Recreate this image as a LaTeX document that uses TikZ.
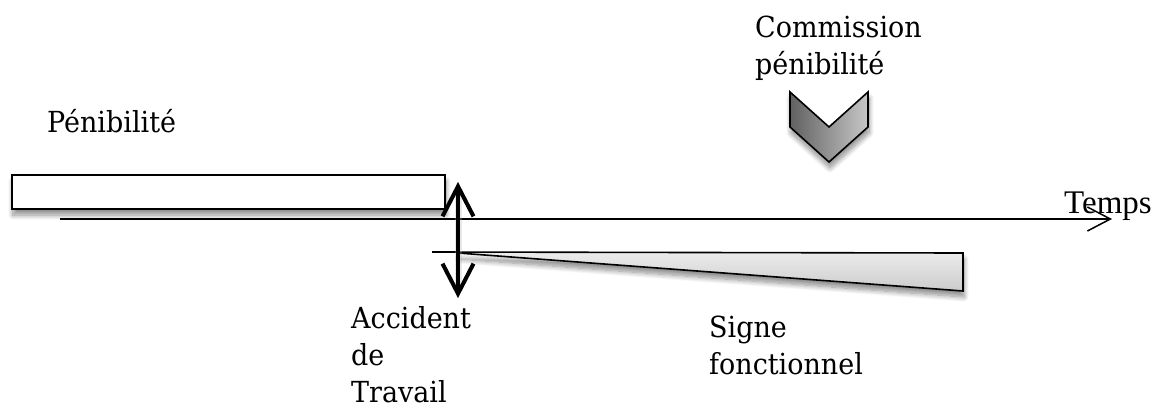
\documentclass[tikz,border=0pt]{standalone}
\usepackage{fontspec}
\setmainfont{DejaVu Serif}[FakeStretch=0.93]
\newfontfamily\timesfont{Liberation Serif}
\usetikzlibrary{arrows.meta,shadows.blur}

\tikzset{
  label/.style={anchor=base west, inner sep=0pt, font=\fontsize{29}{37}\selectfont},
  outline/.style={draw=black, line width=1.6pt, line join=miter},
  softshadow/.style={blur shadow={shadow xshift=1pt, shadow yshift=-6pt,
      shadow blur steps=10, shadow blur radius=5pt, shadow opacity=45}},
  timeaxis/.style={line width=1.5pt, -{Straight Barb[length=23pt,width=24pt,line width=1.5pt]}},
  eventarrow/.style={line width=4pt,
      {Straight Barb[length=30pt,width=31pt,line width=4pt]}-{Straight Barb[length=30pt,width=31pt,line width=4pt]}},
}

\begin{document}
\begin{tikzpicture}[x=1pt, y=-1pt]
\useasboundingbox (0,0) rectangle (1166,407);

% exposure period bar
\draw[outline, fill=white, softshadow] (12,175) rectangle (445,209);

% time axis
\coordinate (t0) at (60,219);
\coordinate (t1) at (1112,219);
\draw[timeaxis] (t0) -- (t1);
\node[anchor=base west, inner sep=0pt, font=\timesfont\fontsize{33}{37}\selectfont] (temps) at (1064,213) {Temps};

% functional decline wedge
\fill[top color=black!8, bottom color=black!20, softshadow] (458,253) -- (963,253) -- (963,291) -- cycle;
\coordinate (w0) at (432,252);
\coordinate (w1) at (963,253);
\coordinate (w2) at (963,291);
\draw[outline] (w0) -- (w1) -- (w2) -- (458,253);

% work accident marker with its soft halo
\coordinate (acc top) at (458,182);
\coordinate (acc bot) at (458,298);
\draw[eventarrow, black!30, line width=7pt, opacity=0.3, shift={(3pt,-3pt)}] (acc top) -- (acc bot);
\draw[eventarrow] (acc top) -- (acc bot);

% commission chevron
\draw[outline, left color=black!62, right color=black!22, softshadow]
  (790,92) -- (829,127) -- (868,92) -- (868,127) -- (829,162) -- (790,127) -- cycle;

% labels
\node[label] (pen) at (47,132) {Pénibilité};
\node[label] (com1) at (755,37) {Commission};
\node[label] (com2) at (755,74) {pénibilité};
\node[label] (acc1) at (351,328) {Accident};
\node[label] (acc2) at (351,365) {de};
\node[label] (acc3) at (351,402) {Travail};
\node[label] (sig1) at (709,337) {Signe};
\node[label] (sig2) at (709,374) {fonctionnel};
\end{tikzpicture}
\end{document}
